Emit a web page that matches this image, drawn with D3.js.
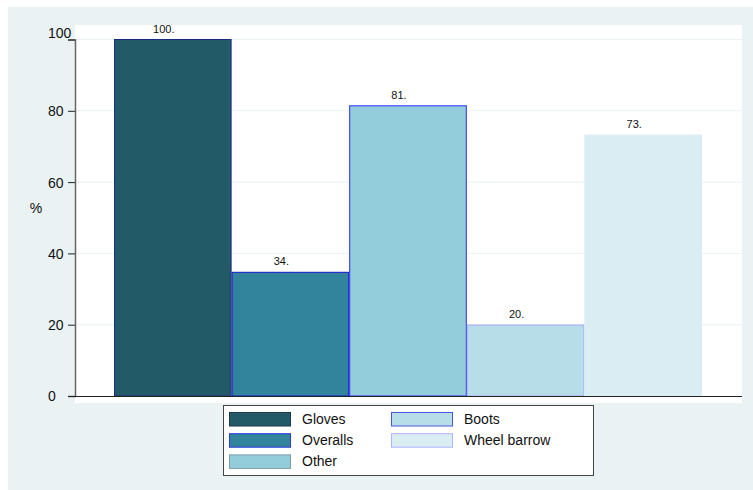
<!DOCTYPE html>
<html><head><meta charset="utf-8">
<script src="https://cdn.jsdelivr.net/npm/d3@7"></script>
<style>body{margin:0;background:#fff}svg{display:block;font-family:"Liberation Sans",Arial,sans-serif}</style>
</head><body>
<svg id="c" width="753" height="490"></svg>
<script>
const categories = ["Gloves", "Overalls", "Other", "Boots", "Wheel barrow"];
const values = [100, 34.7, 81.4, 19.9, 73.2];
const valueLabels = ["100.", "34.", "81.", "20.", "73."];
const yTicks = [0, 20, 40, 60, 80, 100];
const fills = ["#235a68", "#31849c", "#93cddc", "#b7dde8", "#daedf3"];
const strokes = ["#1c2a80", "#1414d0", "#2a2aff", "#a4aaf8", "#daedf3"];
const legendStrokes = ["#1c3a4c", "#2a3ae0", "#7e9ea4", "#4a56d8", "#b0b4ff"];

const svg = d3.select("#c");
svg.append("rect").attr("x", 8).attr("y", 7).attr("width", 745).attr("height", 483).attr("fill", "#eaf2f3");
svg.append("rect").attr("x", 75).attr("y", 25).attr("width", 667).attr("height", 378).attr("fill", "#fff");

const y = d3.scaleLinear().domain([0, 100]).range([396, 39.5]);
const x = d3.scaleBand().domain(categories).range([114, 702]).padding(0);

// gridlines
svg.append("g").selectAll("line").data(yTicks.filter(d => d > 0)).join("line")
  .attr("x1", 75).attr("x2", 742).attr("y1", d => y(d)).attr("y2", d => y(d))
  .attr("stroke", "#eaf2f3").attr("stroke-width", 1);

// bars
svg.append("g").selectAll("rect").data(categories).join("rect")
  .attr("x", d => x(d) + 0.5).attr("y", (d, i) => y(values[i]))
  .attr("width", x.bandwidth() - 1).attr("height", (d, i) => y(0) - y(values[i]))
  .attr("fill", (d, i) => fills[i]).attr("stroke", (d, i) => strokes[i]).attr("stroke-width", 1);

// value labels
svg.append("g").selectAll("text").data(categories).join("text")
  .attr("x", d => x(d) + x.bandwidth() / 2 - 9).attr("y", (d, i) => y(values[i]) - 7)
  .attr("text-anchor", "middle").attr("font-size", 11).attr("fill", "#111")
  .text((d, i) => valueLabels[i]);

// y axis
const yAxis = d3.axisLeft(y).tickValues(yTicks).tickSize(7).tickFormat(d3.format("d"));
const ga = svg.append("g").attr("transform", "translate(75,0)").call(yAxis);
ga.select(".domain").attr("stroke", "#666").attr("stroke-width", 1.5);
ga.selectAll(".tick line").attr("stroke", "#222");
ga.selectAll(".tick text").attr("font-size", 14).attr("fill", "#111")
  .attr("text-anchor", "start").attr("x", -27)
  .attr("dy", d => d === 100 ? "-0.15em" : "0.35em")
  .style("font-family", "'Liberation Sans',Arial,sans-serif");
// x axis line
svg.append("line").attr("x1", 75).attr("x2", 742).attr("y1", 396.5).attr("y2", 396.5)
  .attr("stroke", "#222").attr("stroke-width", 1);

svg.append("text").attr("x", 36).attr("y", 213).attr("text-anchor", "middle")
  .attr("font-size", 14).attr("fill", "#111").text("%");

// legend
const lg = svg.append("g");
lg.append("rect").attr("x", 223.5).attr("y", 405.5).attr("width", 370).attr("height", 70)
  .attr("fill", "#fff").attr("stroke", "#444").attr("stroke-width", 1);
const cols = [229, 391];
categories.forEach((c, i) => {
  const col = i < 3 ? 0 : 1;
  const row = i < 3 ? i : i - 3;
  const sx = cols[col], sy = 412 + row * 21.2;
  lg.append("rect").attr("x", sx + 0.5).attr("y", sy + 0.5).attr("width", 61).attr("height", 13.5)
    .attr("fill", fills[i]).attr("stroke", legendStrokes[i]).attr("stroke-width", 1);
  lg.append("text").attr("x", sx + 73).attr("y", sy + 12).attr("font-size", 14).attr("fill", "#111").text(c);
});
</script>
</body></html>
